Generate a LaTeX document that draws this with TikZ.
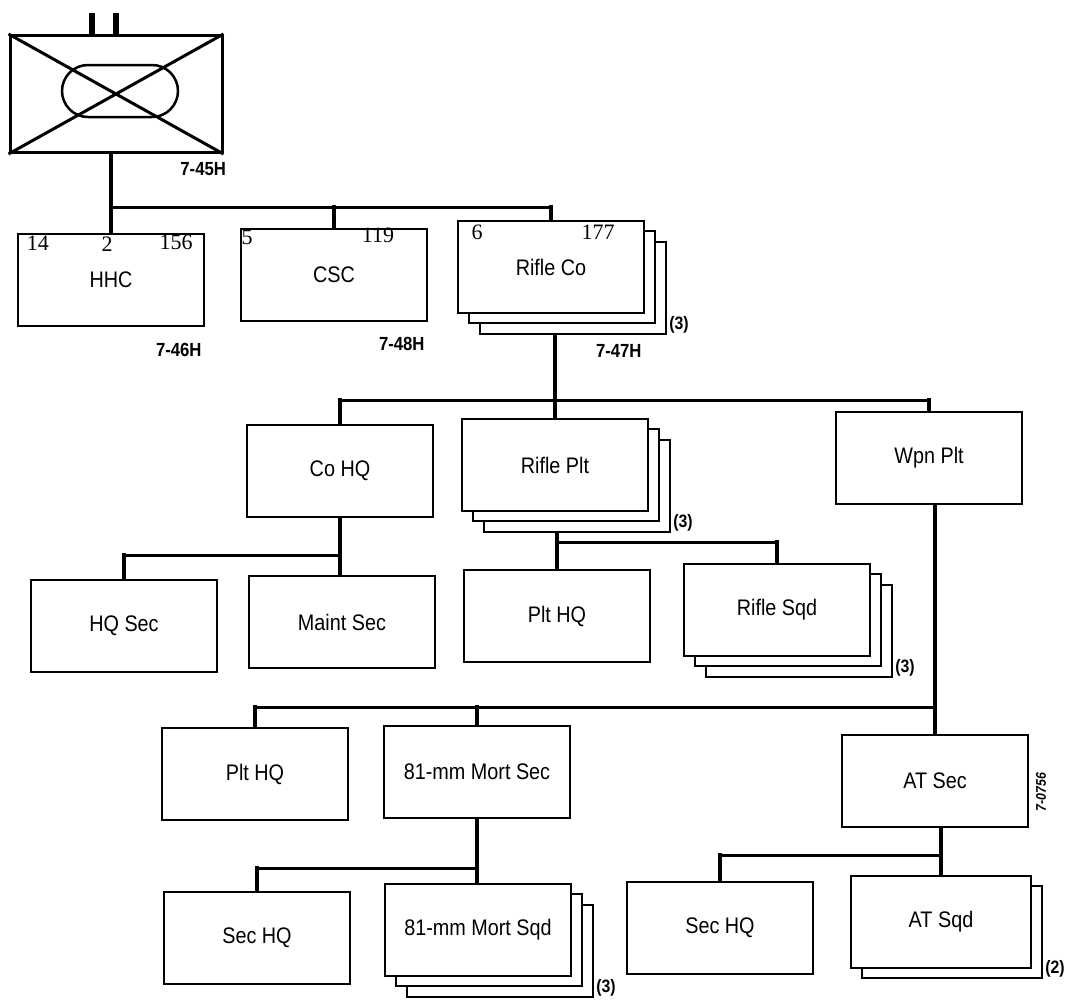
\documentclass[tikz,border=0pt]{standalone}
\usepackage{fontspec}
\setmainfont{Liberation Sans}[FakeStretch=0.88]
\newfontfamily\handfont{Liberation Serif}
\usetikzlibrary{positioning, shapes.misc}

\begin{document}
\begin{tikzpicture}[
  x=1pt, y=-1pt,
  unit/.style={draw, line width=2.2pt, fill=white, minimum width=186pt, minimum height=92pt,
               inner sep=0pt, font=\fontsize{22.5}{25}\selectfont},
  drop/.style={line width=4.5pt, line cap=rect},
  bus/.style={line width=3pt, line cap=rect},
  ref/.style={font=\bfseries\fontsize{19}{22}\selectfont, anchor=north east},
  count/.style={font=\bfseries\fontsize{18}{20}\selectfont, anchor=south west, inner sep=2pt},
  strength/.style={font=\handfont\fontsize{22}{24}\selectfont, inner sep=0pt}
]
  \useasboundingbox (0,0) rectangle (1070,1001);

  % battalion symbol
  \node[draw, line width=3pt, minimum width=212pt, minimum height=117pt, inner sep=0pt] (sym) at (116,94) {};
  \draw[line width=3pt] (sym.north west) -- (sym.south east) (sym.south west) -- (sym.north east);
  \node[draw, rounded rectangle, line width=2.5pt, minimum width=116pt, minimum height=52pt, inner sep=0pt] (loop) at (120,91) {};
  \draw[line width=6pt] ([xshift=-24pt]sym.north) -- ++(0,-21);
  \draw[line width=6pt] (sym.north) -- ++(0,-21);
  \node[ref] (sym-ref) at ([xshift=6pt, yshift=-5pt]sym.south east) {7-45H};

  % companies
  \node[unit] (hhc) at (111,280) {HHC};
  \node[unit] (csc) at (334,275) {CSC};
  \node[unit] (rifleco-3) at (573,288) {};
  \node[unit] (rifleco-2) at (562,277) {};
  \node[unit] (rifleco) at (551,267) {Rifle Co};
  \node[ref] (hhc-ref) at ([yshift=-13pt]hhc.south east) {7-46H};
  \node[ref] (csc-ref) at ([yshift=-12pt]csc.south east) {7-48H};
  \node[ref] (rifleco-ref) at ([yshift=-27pt]rifleco.south east) {7-47H};
  \node[count] (rifleco-n) at (rifleco-3.south east) {(3)};

  % strength figures
  \node[strength] (hhc-off) at (38,243) {14};
  \node[strength] (hhc-wo) at (107,244) {2};
  \node[strength] (hhc-enl) at (176,242) {156};
  \node[strength] (csc-off) at (247,237) {5};
  \node[strength] (csc-enl) at (378,235) {119};
  \node[strength] (rifleco-off) at (477,232) {6};
  \node[strength] (rifleco-enl) at (598,232) {177};

  % rifle company
  \node[unit] (cohq) at (340,471) {Co HQ};
  \node[unit] (rifleplt-3) at (577,486) {};
  \node[unit] (rifleplt-2) at (566,475) {};
  \node[unit] (rifleplt) at (555,465) {Rifle Plt};
  \node[count] (rifleplt-n) at (rifleplt-3.south east) {(3)};
  \node[unit] (wpnplt) at (929,458) {Wpn Plt};

  \node[unit] (hqsec) at (124,626) {HQ Sec};
  \node[unit] (maintsec) at (342,622) {Maint Sec};
  \node[unit] (plthq) at (557,616) {Plt HQ};
  \node[unit] (riflesqd-3) at (799,631) {};
  \node[unit] (riflesqd-2) at (788,620) {};
  \node[unit] (riflesqd) at (777,610) {Rifle Sqd};
  \node[count] (riflesqd-n) at (riflesqd-3.south east) {(3)};

  % weapons platoon
  \node[unit] (wpnhq) at (255,774) {Plt HQ};
  \node[unit] (mortsec) at (477,772) {81-mm Mort Sec};
  \node[unit] (atsec) at (935,781) {AT Sec};
  \node[rotate=90, font=\bfseries\itshape\fontsize{14}{15}\selectfont] (figno) at (1041,792) {7-0756};

  \node[unit] (mortsechq) at (257,938) {Sec HQ};
  \node[unit] (mortsqd-3) at (500,951) {};
  \node[unit] (mortsqd-2) at (489,940) {};
  \node[unit] (mortsqd) at (478,930) {81-mm Mort Sqd};
  \node[count] (mortsqd-n) at (mortsqd-3.south east) {(3)};
  \node[unit] (atsechq) at (720,928) {Sec HQ};
  \node[unit, minimum width=180pt] (atsqd-2) at (952,932) {};
  \node[unit, minimum width=180pt] (atsqd) at (941,922) {AT Sqd};
  \node[count] (atsqd-n) at (atsqd-2.south east) {(2)};

  % bus lines
  \coordinate (bus1) at (0,207);
  \coordinate (bus2) at (0,400);
  \coordinate (bus3) at (0,555);
  \coordinate (bus4) at (0,542);
  \coordinate (bus5) at (0,707);
  \coordinate (bus6) at (0,868);
  \coordinate (bus7) at (0,855);

  \draw[drop] (hhc.north) -- (hhc.north |- sym.south);
  \draw[bus] (bus1 -| hhc.north) -- (bus1 -| rifleco.north);
  \draw[drop] (csc.north) -- (csc.north |- bus1);
  \draw[drop] (rifleco.north) -- (rifleco.north |- bus1);

  \draw[drop] (rifleplt.north |- rifleco-3.south) -- (rifleplt.north);
  \draw[bus] (bus2 -| cohq.north) -- (bus2 -| wpnplt.north);
  \draw[drop] (cohq.north) -- (cohq.north |- bus2);
  \draw[drop] (wpnplt.north) -- (wpnplt.north |- bus2);

  \draw[drop] (cohq.south) -- (cohq.south |- maintsec.north);
  \draw[bus] (bus3 -| hqsec.north) -- (bus3 -| cohq.south);
  \draw[drop] (hqsec.north) -- (hqsec.north |- bus3);

  \draw[drop] (plthq.north) -- (plthq.north |- rifleplt-3.south);
  \draw[bus] (bus4 -| plthq.north) -- (bus4 -| riflesqd.north);
  \draw[drop] (riflesqd.north) -- (riflesqd.north |- bus4);

  \draw[drop] (atsec.north) -- (atsec.north |- wpnplt.south);
  \draw[bus] (bus5 -| wpnhq.north) -- (bus5 -| atsec.north);
  \draw[drop] (wpnhq.north) -- (wpnhq.north |- bus5);
  \draw[drop] (mortsec.north) -- (mortsec.north |- bus5);

  \draw[drop] (mortsec.south) -- (mortsec.south |- mortsqd.north);
  \draw[bus] (bus6 -| mortsechq.north) -- (bus6 -| mortsec.south);
  \draw[drop] (mortsechq.north) -- (mortsechq.north |- bus6);

  \draw[drop] (atsqd.north) -- (atsqd.north |- atsec.south);
  \draw[bus] (bus7 -| atsechq.north) -- (bus7 -| atsqd.north);
  \draw[drop] (atsechq.north) -- (atsechq.north |- bus7);
\end{tikzpicture}
\end{document}
